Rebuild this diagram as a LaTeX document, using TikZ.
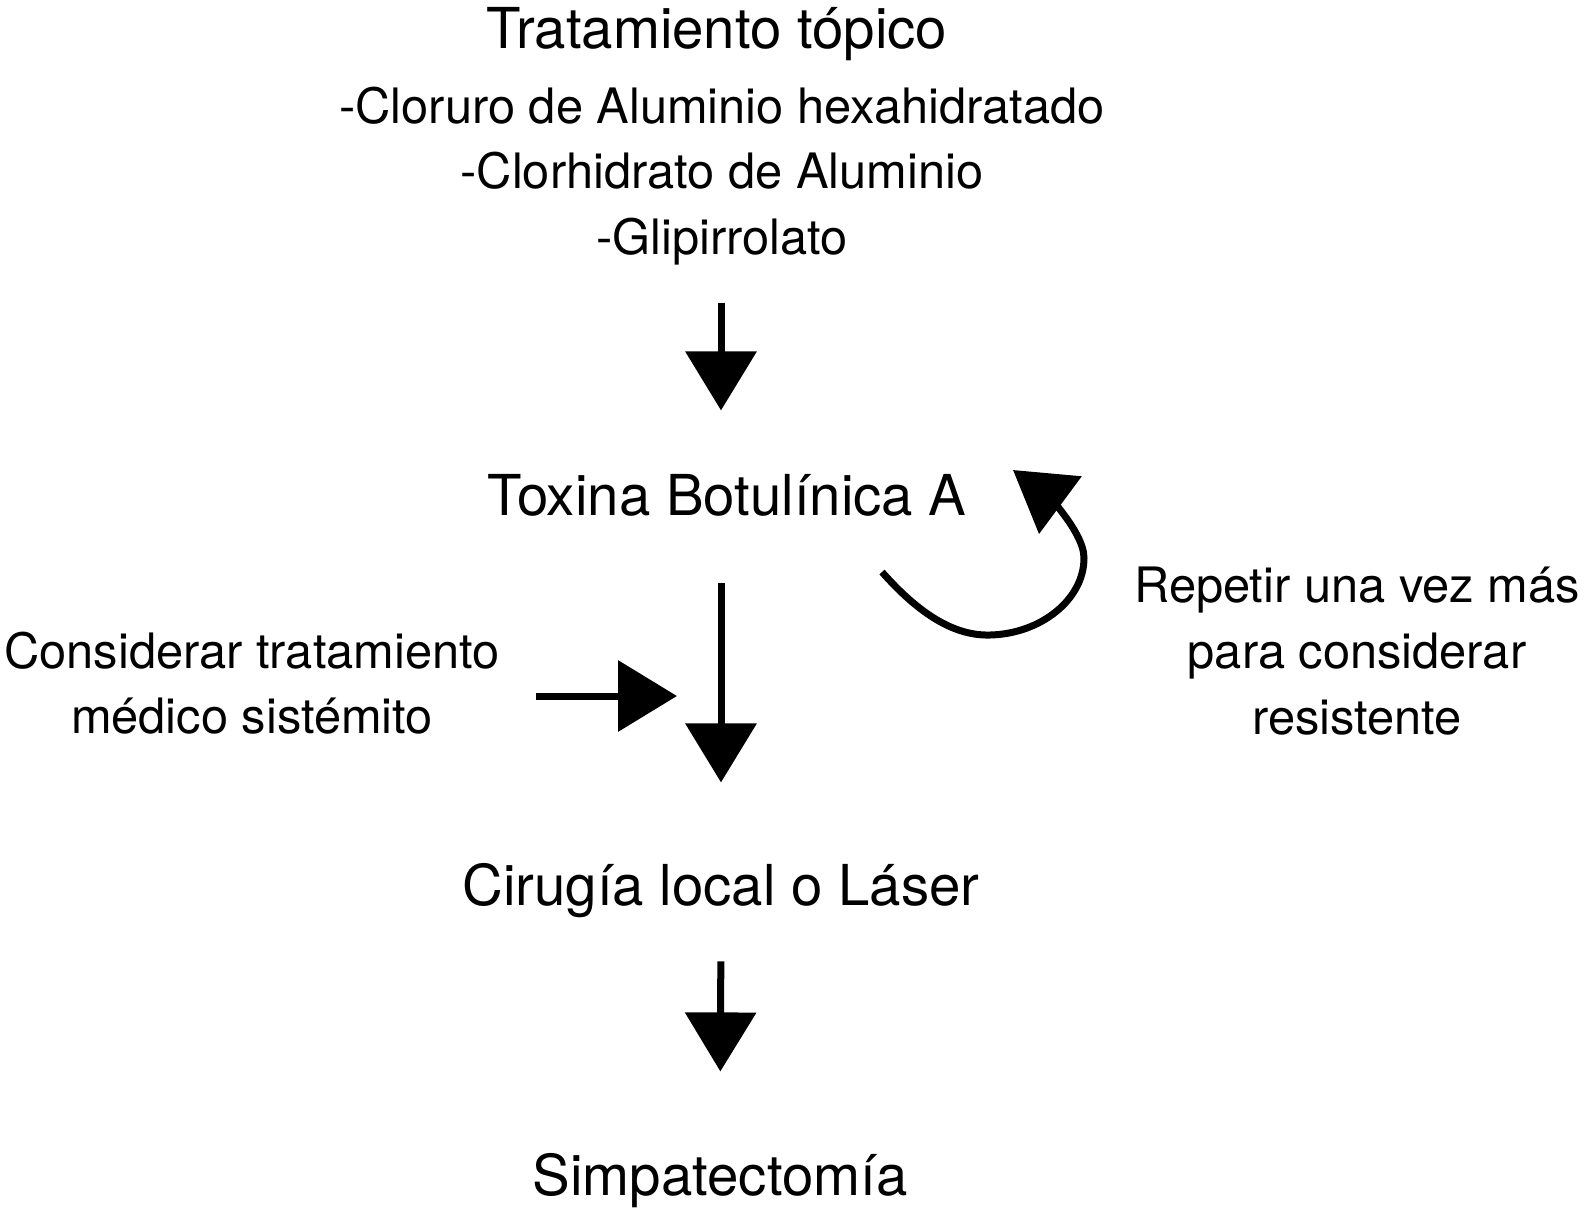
\documentclass[tikz,border=0pt]{standalone}
\usepackage{fontspec}
\setmainfont{TeX Gyre Heros}
\usetikzlibrary{arrows.meta, calc}
\tikzset{
    titulo/.style={font=\fontsize{28.2pt}{33pt}\selectfont, inner sep=0pt, text height=21.1pt, text depth=7pt, anchor=base},
    texto/.style={font=\fontsize{24.4pt}{32.8pt}\selectfont, inner sep=0pt, align=center},
    seta/.style={line width=3.5pt, -{Triangle[length=29.5pt, width=35pt]}}
}

\begin{document}
\begin{tikzpicture}[x=0.5pt, y=-0.5pt]
    \useasboundingbox (0,0) rectangle (1592,1207);
    % textos
    \node[titulo] (topico) at (717,48) {Tratamiento tópico};
    \node[texto] (lista) at (722,176) {-Cloruro de Aluminio hexahidratado\\-Clorhidrato de Aluminio\\-Glipirrolato};
    \node[titulo] (toxina) at (727,515) {Toxina Botulínica A};
    \node[titulo] (cirugia) at (721,905) {Cirugía local o Láser};
    \node[titulo] (simpatectomia) at (720,1195) {Simpatectomía};
    \node[texto] (sistemico) at (252,683) {Considerar tratamiento\\médico sistémito};
    \node[texto] (repetir) at (1357,651) {Repetir una vez más\\para considerar\\resistente};
    % setas
    \draw[seta, shorten <=18.5pt, shorten >=31pt] (lista.south -| cirugia.north) -- (cirugia.north |- toxina.north);
    \draw[seta, shorten <=27pt, shorten >=40pt] (cirugia.north |- toxina.south) -- (cirugia.north);
    \draw[seta, shorten <=21pt, shorten >=40.5pt] (cirugia.south) -- (simpatectomia.north);
    \coordinate (entrada) at ($(sistemico.east)+(0,13)$);
    \draw[seta, shorten <=18pt, shorten >=22pt] (entrada) -- (entrada -| cirugia.north);
    % repetir
    \coordinate (laco) at (882,572);
    \coordinate (volta) at (1013,470);
    \draw[seta] (laco) .. controls (920,615) and (955,636) .. (990,635)
        .. controls (1040,634) and (1084,600) .. (1084,558)
        .. controls (1084,530) and (1040,490) .. (volta);
\end{tikzpicture}
\end{document}
